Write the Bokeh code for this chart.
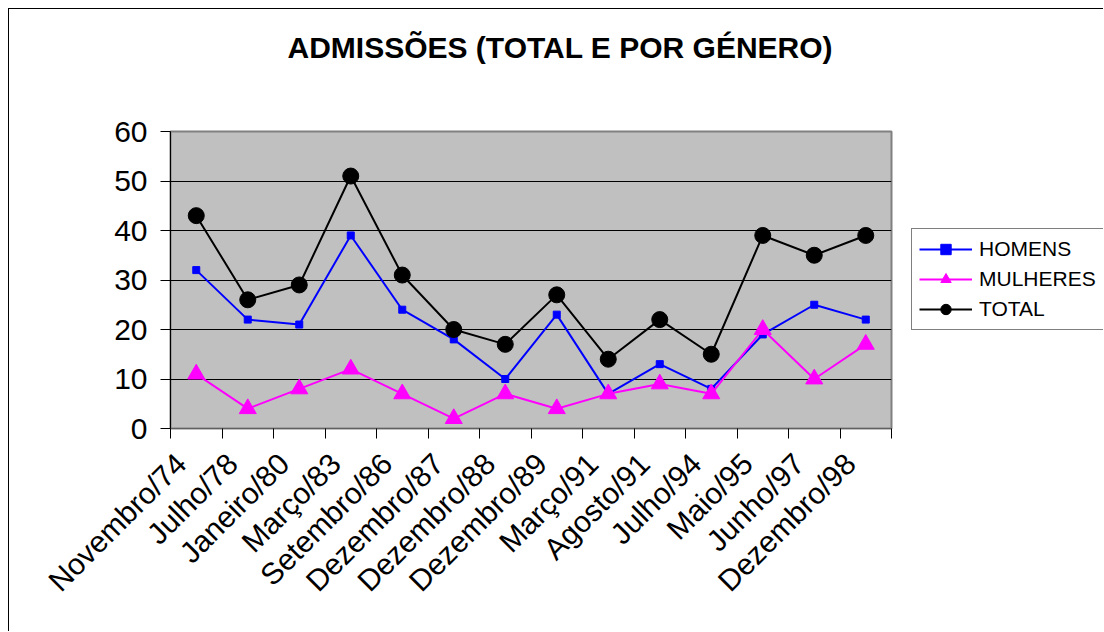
import math
from bokeh.plotting import figure
from bokeh.layouts import row
from bokeh.models import FixedTicker, Legend, LegendItem, Title
from bokeh.embed import file_html
from bokeh.resources import INLINE

categories = ["Novembro/74", "Julho/78", "Janeiro/80", "Março/83", "Setembro/86",
              "Dezembro/87", "Dezembro/88", "Dezembro/89", "Março/91", "Agosto/91",
              "Julho/94", "Maio/95", "Junho/97", "Dezembro/98"]
homens = [32, 22, 21, 39, 24, 18, 10, 23, 7, 13, 8, 19, 25, 22]
mulheres = [11, 4, 8, 12, 7, 2, 7, 4, 7, 9, 7, 20, 10, 17]
total = [43, 26, 29, 51, 31, 20, 17, 27, 14, 22, 15, 39, 35, 39]
y_ticks = [0, 10, 20, 30, 40, 50, 60]
series_names = ["HOMENS", "MULHERES", "TOTAL"]
title_text = "ADMISSÕES (TOTAL E POR GÉNERO)"

FONT = "Liberation Sans"
n = len(categories)
xs = [i + 0.5 for i in range(n)]
label_pos = [x - 0.3 for x in xs]
series = [homens, mulheres, total]

p = figure(width=903, height=623, output_backend="svg", toolbar_location=None,
           x_range=(0, n), y_range=(0, 60),
           min_border_left=161, min_border_right=21,
           min_border_top=122, min_border_bottom=204,
           background_fill_color="#C0C0C0", border_fill_color="white")
p.styles = {"border-left": "1px solid black", "border-top": "1px solid black"}
p.outline_line_color = "#808080"
p.outline_line_width = 2

# spacer between title and plot area (closest to the frame)
p.add_layout(Title(text=" ", text_font_size="10px", standoff=55), "above")
p.title.text = title_text
p.title.align = "left"
p.title.offset = 117
p.title.standoff = 0
p.title.text_font = FONT
p.title.text_font_size = "30px"
p.title.text_font_style = "bold"
p.title.text_color = "black"

# axes
p.xaxis.ticker = FixedTicker(ticks=label_pos, minor_ticks=list(range(n + 1)))
p.xaxis.major_label_overrides = {x: c for x, c in zip(label_pos, categories)}
p.xaxis.major_label_orientation = math.pi / 4
p.xaxis.major_tick_out = 0
p.xaxis.major_tick_in = 0
p.xaxis.minor_tick_out = 10
p.xaxis.minor_tick_in = 0
p.xaxis.minor_tick_line_color = "black"
p.xaxis.axis_line_color = "#606060"
p.xaxis.axis_line_width = 1
p.xaxis.major_label_text_font = FONT
p.xaxis.major_label_text_font_size = "30px"
p.xaxis.major_label_text_color = "black"
p.xaxis.major_label_standoff = 20

p.yaxis.ticker = FixedTicker(ticks=y_ticks)
p.yaxis.major_tick_out = 10
p.yaxis.major_tick_in = 0
p.yaxis.minor_tick_line_color = None
p.yaxis.major_tick_line_color = "black"
p.yaxis.axis_line_color = "black"
p.yaxis.major_label_text_font = FONT
p.yaxis.major_label_text_font_size = "30px"
p.yaxis.major_label_text_color = "black"
p.yaxis.major_label_standoff = 13

p.xgrid.grid_line_color = None
p.ygrid.ticker = FixedTicker(ticks=y_ticks)
p.ygrid.grid_line_color = "black"
p.ygrid.grid_line_width = 1

# series
styles = [dict(color="#0000FF", marker="square", size=7),
          dict(color="#FF00FF", marker="triangle", size=17),
          dict(color="black", marker="circle", size=16)]
for vals, st in zip(series, styles):
    p.line(xs, vals, color=st["color"], line_width=2)
    p.scatter(xs, vals, marker=st["marker"], size=st["size"], color=st["color"])

# legend panel (separate canvas to the right of the plot); its renderers
# hold the same series but lie outside this canvas's visible range
lf = figure(width=192, height=623, output_backend="svg", toolbar_location=None,
            x_range=(0, 1), y_range=(-2, -1), min_border=0,
            x_axis_type=None, y_axis_type=None,
            background_fill_color="white", border_fill_color="white")
lf.styles = {"border-top": "1px solid black"}
lf.outline_line_color = None
lf.xgrid.grid_line_color = None
lf.ygrid.grid_line_color = None
items = []
for name, vals, st in zip(series_names, series, styles):
    lr = lf.line(xs, vals, color=st["color"], line_width=2)
    sr = lf.scatter(xs, vals, marker=st["marker"], size=st["size"], color=st["color"])
    items.append(LegendItem(label=name, renderers=[lr, sr]))

legend = Legend(items=items, location=(0, 98), margin=0, padding=7, spacing=4,
                glyph_width=53, glyph_height=26, label_height=26, label_standoff=7,
                label_width=135,
                label_text_font=FONT, label_text_font_size="21px",
                label_text_color="black",
                border_line_color="black", border_line_width=1,
                background_fill_color="white", background_fill_alpha=1.0)
lf.add_layout(legend)

layout = row(p, lf, styles={"margin-left": "8px", "margin-top": "8px"})

open("out.html", "w").write(file_html(layout, INLINE))
